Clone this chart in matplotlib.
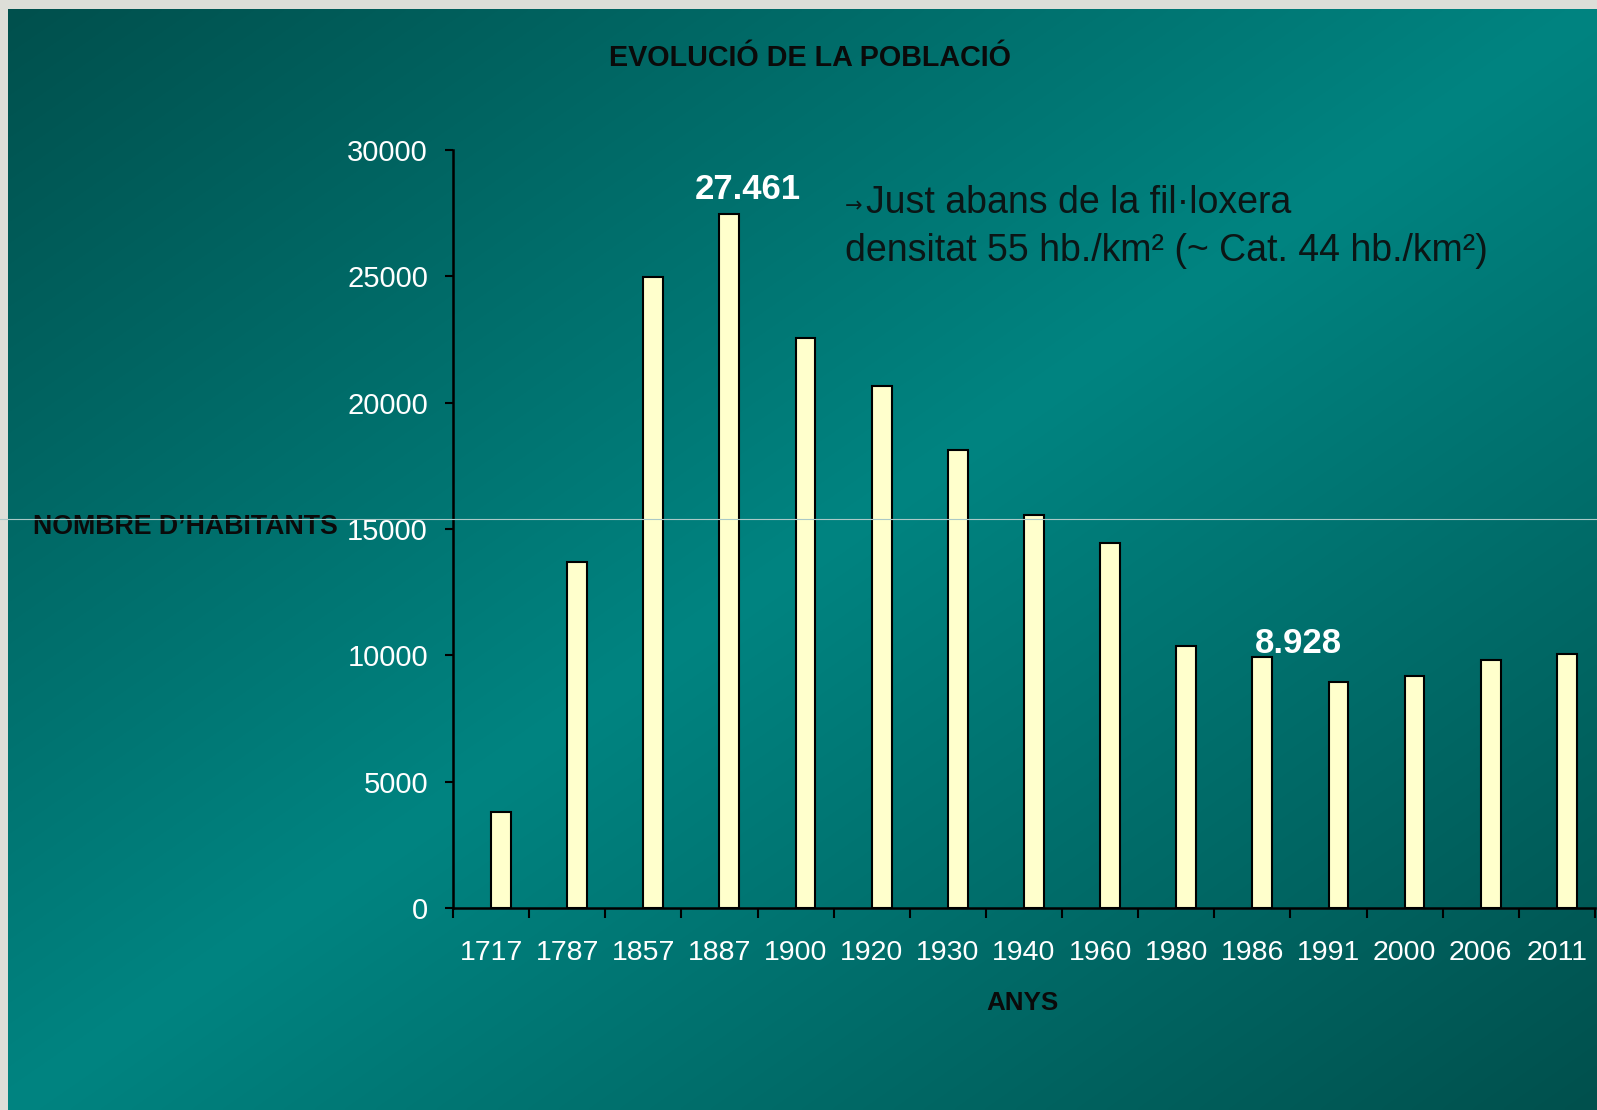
import numpy as np
import matplotlib.pyplot as plt
from matplotlib.ticker import FixedLocator, NullFormatter

# data
years = ['1717', '1787', '1857', '1887', '1900', '1920', '1930', '1940',
         '1960', '1980', '1986', '1991', '2000', '2006', '2011']
habitants = [3785, 13690, 24970, 27461, 22550, 20660, 18120, 15545,
             14455, 10380, 9950, 8928, 9170, 9810, 10040]
yticks = [0, 5000, 10000, 15000, 20000, 25000, 30000]

W, H = 1597, 1110
plt.rcParams['font.family'] = ['Liberation Sans', 'DejaVu Sans']

fig = plt.figure(figsize=(W / 100, H / 100), dpi=100)
fig.patch.set_facecolor('#DDDED8')

def fx(x):
    return x / W

def fy(y):
    return 1 - y / H

# background gradient (dark corners top-left / bottom-right, bright diagonal)
bg = fig.add_axes([fx(8), 0, 1 - fx(8), fy(9)], zorder=-10)
gx, gy = np.meshgrid(np.linspace(0, 1, 400), np.linspace(0, 1, 300))
t = (gx + gy) / 2
s = 1 - np.abs(2 * t - 1)
dark = np.array([0x01, 0x50, 0x4D]) / 255
bright = np.array([0x00, 0x84, 0x81]) / 255
img = dark[None, None, :] * (1 - s[..., None]) + bright[None, None, :] * s[..., None]
bg.imshow(img, aspect='auto', interpolation='bilinear')
bg.axis('off')

# thin light line across the slide
fig.add_artist(plt.Line2D([0, 1], [fy(519), fy(519)], color='#a9c9c7',
                          lw=0.8, zorder=5))

ax = fig.add_axes([fx(453), fy(908), fx(1595) - fx(453), fy(150) - fy(908)])
ax.patch.set_alpha(0)

x = np.arange(len(years))
ax.bar(x + 0.13, habitants, width=0.26, color='#FFFFCC', edgecolor='black',
       linewidth=1.5, zorder=3)

ax.set_xlim(-0.5, len(years) - 0.5)
ax.set_ylim(0, 30000)
ax.set_yticks(yticks)
ax.set_yticklabels([str(v) for v in yticks])
ax.set_xticks(x)
ax.set_xticklabels(years)
ax.xaxis.set_minor_locator(FixedLocator(np.arange(-0.5, len(years), 1.0)))
ax.xaxis.set_minor_formatter(NullFormatter())

ax.tick_params(axis='x', which='major', length=0, pad=23, labelsize=20.5,
               labelcolor='white')
ax.tick_params(axis='x', which='minor', length=7, width=1.5, direction='out',
               color='black')
ax.tick_params(axis='y', length=6, width=1.5, direction='out', pad=12,
               labelsize=21, labelcolor='white', color='black')

for side in ['top', 'right']:
    ax.spines[side].set_visible(False)
for side in ['left', 'bottom']:
    ax.spines[side].set_linewidth(1.8)
    ax.spines[side].set_color('black')

# value labels
ax.text(3.375, 28450, '27.461', color='white', fontsize=25, fontweight='bold',
        ha='center', va='center')
ax.text(10.6, 10450, '8.928', color='white', fontsize=25, fontweight='bold',
        ha='center', va='center')

# titles
fig.text(fx(810), fy(58), 'EVOLUCIÓ DE LA POBLACIÓ', fontsize=20.7,
         fontweight='bold', color='#0a0a0a', ha='center', va='center')
fig.text(fx(1022), fy(1003), 'ANYS', fontsize=18.7, fontweight='bold',
         color='#0a0a0a', ha='center', va='center')
fig.text(fx(33), fy(527), 'NOMBRE D\u2019HABITANTS', fontsize=19.3,
         fontweight='bold', color='#0a0a0a', ha='left', va='center')

# note
fig.text(fx(845), fy(206), '\u2192', fontsize=15, color='#0b1616',
         ha='left', va='center', family=['DejaVu Sans'])
fig.text(fx(866), fy(203), 'Just abans de la fil\u00b7loxera',
         fontsize=27, color='#0b1616', ha='left', va='center')
fig.text(fx(845), fy(251), 'densitat 55 hb./km\u00b2 (~ Cat. 44 hb./km\u00b2)',
         fontsize=27, color='#0b1616', ha='left', va='center')

fig.savefig('out.png', dpi=100, facecolor=fig.get_facecolor())
